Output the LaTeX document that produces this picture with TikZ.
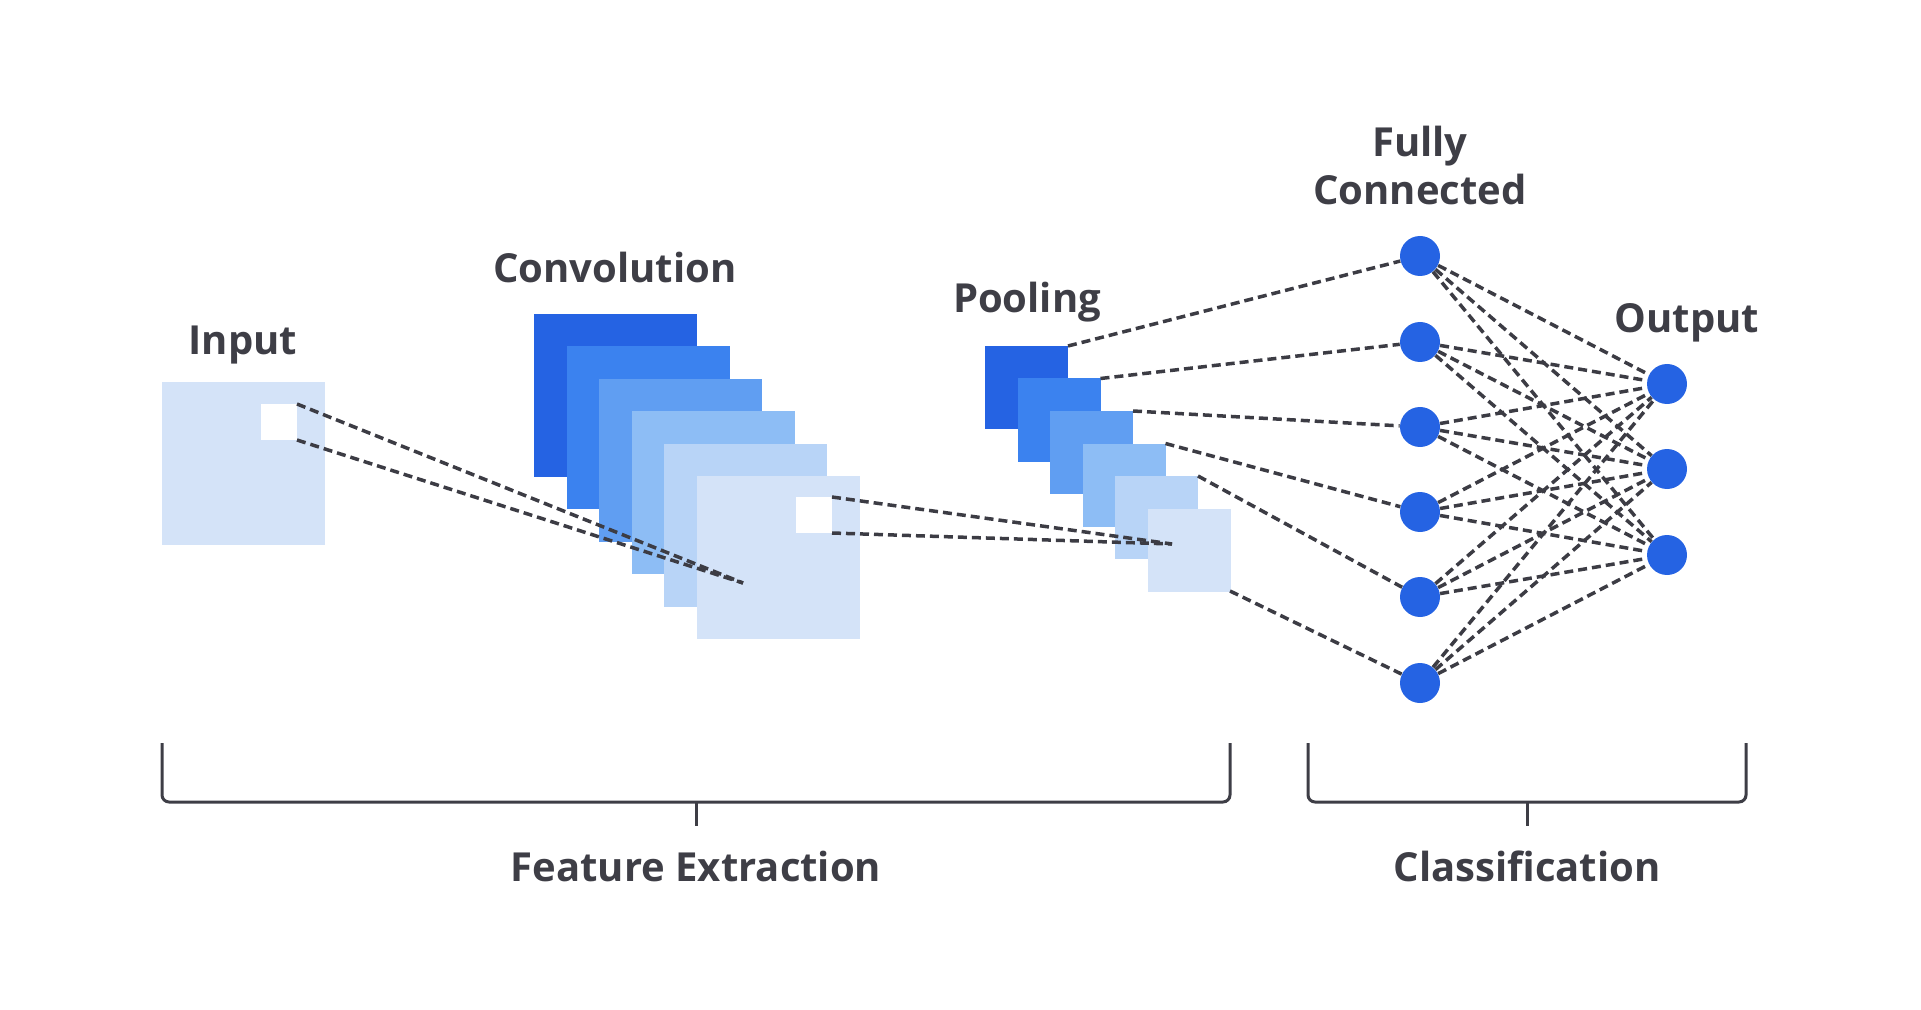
\documentclass[tikz,border=0pt]{standalone}
\usepackage{fontspec}
\setmainfont{Open Sans}
\definecolor{txt}{RGB}{62,62,70}
\definecolor{lnk}{RGB}{60,60,68}
\definecolor{nodeblue}{RGB}{37,99,227}
\definecolor{sqa}{RGB}{37,99,227}
\definecolor{sqb}{RGB}{59,130,239}
\definecolor{sqc}{RGB}{96,158,242}
\definecolor{sqd}{RGB}{141,189,245}
\definecolor{sqe}{RGB}{184,212,247}
\definecolor{sqf}{RGB}{212,227,248}

\begin{document}
\begin{tikzpicture}[x=0.5pt,y=-0.5pt,
  lbl/.style={text=txt,font=\fontsize{20}{24}\selectfont\bfseries,anchor=base,inner sep=0pt},
  link/.style={draw=lnk,line width=1.75pt,dash pattern=on 4.5pt off 2.5pt},
  neuron/.style={circle,fill=nodeblue,minimum size=20pt,inner sep=0pt},
  brace/.style={draw=txt,line width=1.5pt,rounded corners=3.5pt}]
\useasboundingbox (0,0) rectangle (1921,1010);
% input
\fill[sqf] (162,382) rectangle (325,545);
\fill[white] (261,404) rectangle (297,440);
% convolution stack
\foreach \c [count=\i from 0] in {sqa,sqb,sqc,sqd,sqe,sqf}
  \fill[\c] (534+32.5*\i,314+32.4*\i) rectangle ++(163,163);
\fill[white] (796,497) rectangle (832,533);
% pooling stack
\foreach \c [count=\i from 0] in {sqa,sqb,sqc,sqd,sqe,sqf}
  \fill[\c] (985+32.5*\i,346+32.5*\i) rectangle ++(83,83);
\foreach \i in {1,...,5}
  \coordinate (p\i) at (1068+32.5*\i-32.5,346+32.5*\i-32.5);
\coordinate (p6) at (1230,591);
% windows
\coordinate (inA) at (297,404);
\coordinate (inB) at (297,440);
\coordinate (cv) at (743,583);
\coordinate (cvA) at (832,497);
\coordinate (cvB) at (832,533);
\coordinate (pl) at (1172,544);
\draw[link] (inA) -- (cv);
\draw[link] (inB) -- (cv);
\draw[link] (cvA) -- (pl);
\draw[link] (cvB) -- (pl);
% neurons
\foreach \y [count=\i] in {256,342,427,512,597,683}
  \node[neuron] (fc\i) at (1420,\y) {};
\foreach \y [count=\i] in {384,469,555}
  \node[neuron] (out\i) at (1667,\y) {};
\foreach \i in {1,...,6}
  \draw[link] (p\i) -- (fc\i);
\foreach \i in {1,...,6}
  \foreach \j in {1,2,3}
    \draw[link] (fc\i) -- (out\j);
% labels
\node[lbl] (input) at (243,355) {Input};
\node[lbl] (conv) at (615,283) {Convolution};
\node[lbl] (pool) at (1027,313) {Pooling};
\node[lbl,align=center] (fully) at (1420,205) {Fully\\Connected};
\node[lbl] (output) at (1687,333) {Output};
% brackets
\draw[brace] (162,743) -- (162,802) -- (1230,802) -- (1230,743);
\draw[brace] (1308,743) -- (1308,802) -- (1746,802) -- (1746,743);
\draw[txt,line width=1.5pt] (696,802) -- (696,826);
\draw[txt,line width=1.5pt] (1527,802) -- (1527,826);
\node[lbl] (featx) at (696,881) {Feature Extraction};
\node[lbl] (classif) at (1527,881) {Classification};
\end{tikzpicture}
\end{document}
